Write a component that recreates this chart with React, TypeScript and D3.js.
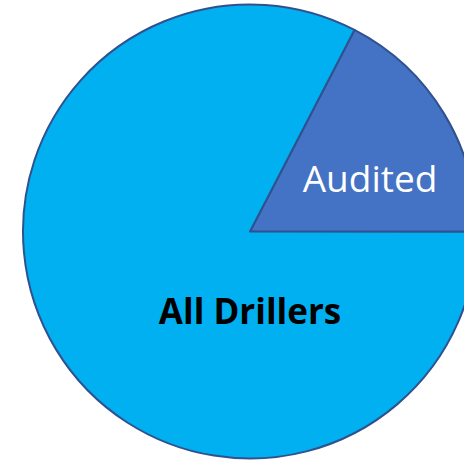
import { useEffect, useRef } from 'react';
import * as d3 from 'd3';

const categories = ['Audited', 'All Drillers'];
const values = [17.4, 82.6];
const colors = ['#4472C4', '#00B0F0'];

const App = () => {
  const ref = useRef<SVGSVGElement | null>(null);
  const width = 464;
  const height = 460;

  useEffect(() => {
    if (!ref.current) return;
    const svg = d3.select(ref.current);
    svg.selectAll('*').remove();

    const cx = 250;
    const cy = 231.5;
    const radius = 227;

    const data = categories.map((label, i) => ({ label, value: values[i], color: colors[i] }));

    const pie = d3
      .pie<{ label: string; value: number; color: string }>()
      .sort(null)
      .value((d) => d.value)
      .startAngle((27.4 * Math.PI) / 180)
      .endAngle((27.4 * Math.PI) / 180 + 2 * Math.PI);

    const arc = d3
      .arc<d3.PieArcDatum<{ label: string; value: number; color: string }>>()
      .innerRadius(0)
      .outerRadius(radius);

    const g = svg.append('g').attr('transform', `translate(${cx},${cy})`);
    const arcs = pie(data);

    g.selectAll('path')
      .data(arcs)
      .enter()
      .append('path')
      .attr('d', arc)
      .attr('fill', (d) => d.data.color)
      .attr('stroke', '#2F528F')
      .attr('stroke-width', 2)
      .attr('stroke-linejoin', 'round');

    // label placement (manual, like the original slide)
    const labelPos = [
      { x: 120, y: -40, color: '#ffffff', weight: 'normal', size: 37 },
      { x: 0, y: 92, color: '#000000', weight: 'bold', size: 35 },
    ];

    g.selectAll('text')
      .data(arcs)
      .enter()
      .append('text')
      .attr('x', (d, i) => labelPos[i].x)
      .attr('y', (d, i) => labelPos[i].y)
      .attr('text-anchor', 'middle')
      .attr('dominant-baseline', 'alphabetic')
      .attr('font-family', '"Open Sans", sans-serif')
      .attr('font-size', (d, i) => labelPos[i].size)
      .attr('font-weight', (d, i) => labelPos[i].weight)
      .attr('fill', (d, i) => labelPos[i].color)
      .text((d) => d.data.label);
  }, []);

  return (
    <svg
      ref={ref}
      width={width}
      height={height}
      style={{ position: 'absolute', left: 0, top: 0, display: 'block' }}
      role="img"
      aria-label="Pie chart"
    />
  );
};

export default App;
